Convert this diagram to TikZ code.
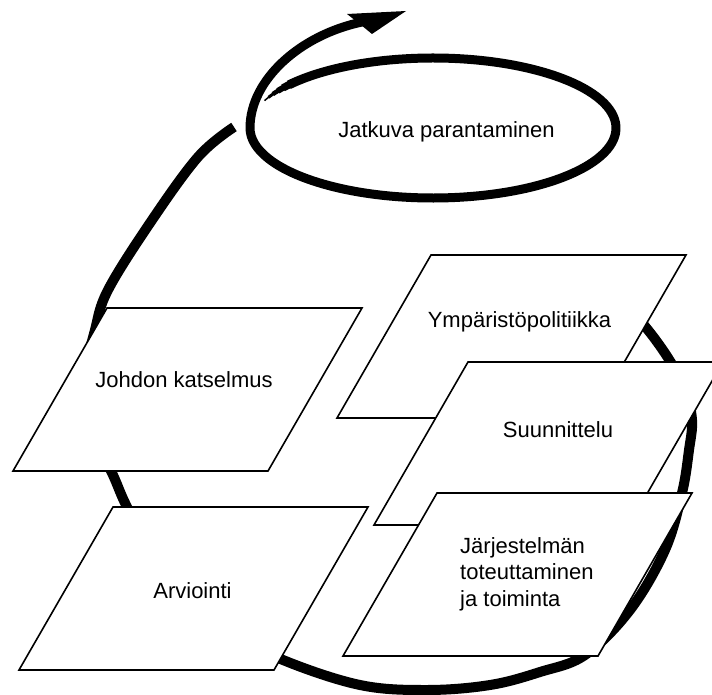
\documentclass[tikz,border=0pt]{standalone}
\usepackage{fontspec}
\setmainfont{Liberation Sans}
\newcommand{\stagebox}[1]{\draw[stage] (#1) -- ++(255,0) -- ++(-94,163) -- ++(-255,0) -- cycle;}
\begin{document}
\begin{tikzpicture}[x=1pt,y=-1pt,
  loopline/.style={line width=10pt, line cap=butt, line join=round},
  stage/.style={draw=black, fill=white, line width=1.6pt, line join=miter},
  stagetext/.style={font=\fontsize{22}{26.5}\selectfont, inner sep=0pt}]
\useasboundingbox (0,0) rectangle (712,695);
\clip (0,0) rectangle (712,695);
\fill[white] (0,0) rectangle (712,695);
% big cycle
\draw[loopline] plot[smooth, tension=0.6] coordinates {(600,285) (625,305) (648,330) (670,361) (685,390) (692,420) (689,450) (682,493) (665,550) (630,610) (585,655) (540,672) (490,685) (427,690) (360,685) (283,660) (230,632) (188,595) (150,550) (126,505) (113,475) (92,430) (86,375) (95,330) (108,290) (150,223) (198,157) (234,127)};
% continual improvement spiral (tapered start)
\coordinate (ccentre) at (433,128);
\coordinate (ahead) at (362,22);
\foreach \s/\w in {-157/1.5,-154/3,-151/4.5,-148/6,-145/7.5}
  \draw[line width=\w pt, line cap=butt] (ccentre) ++(\s:183 and 70) arc[start angle=\s, end angle=\s+4, x radius=183, y radius=70];
\draw[loopline, line width=9pt] (ccentre) ++(-142:183 and 70) arc[start angle=-142, end angle=180, x radius=183, y radius=70]
  .. controls (250,80) and (300,35) .. (ahead);
\fill (347,14) -- (406,11) -- (372,34) -- (361,25) -- cycle;
% stages
\stagebox{107,308}
\stagebox{113,507}
\stagebox{431,255}
\stagebox{468,362}
\stagebox{437,493}
\node[stagetext, anchor=base] (jatkuva) at (446.5,138) {Jatkuva parantaminen};
\node[stagetext, anchor=base] (johdon) at (184,387) {Johdon katselmus};
\node[stagetext, anchor=base] (arviointi) at (192.5,598) {Arviointi};
\node[stagetext, anchor=base] (ymp) at (519.5,327) {Ympäristöpolitiikka};
\node[stagetext, anchor=base] (suun) at (558,437) {Suunnittelu};
\node[stagetext, anchor=north west, align=left] (jarj) at (460,537) {Järjestelmän\\toteuttaminen\\ja toiminta};
\end{tikzpicture}
\end{document}
